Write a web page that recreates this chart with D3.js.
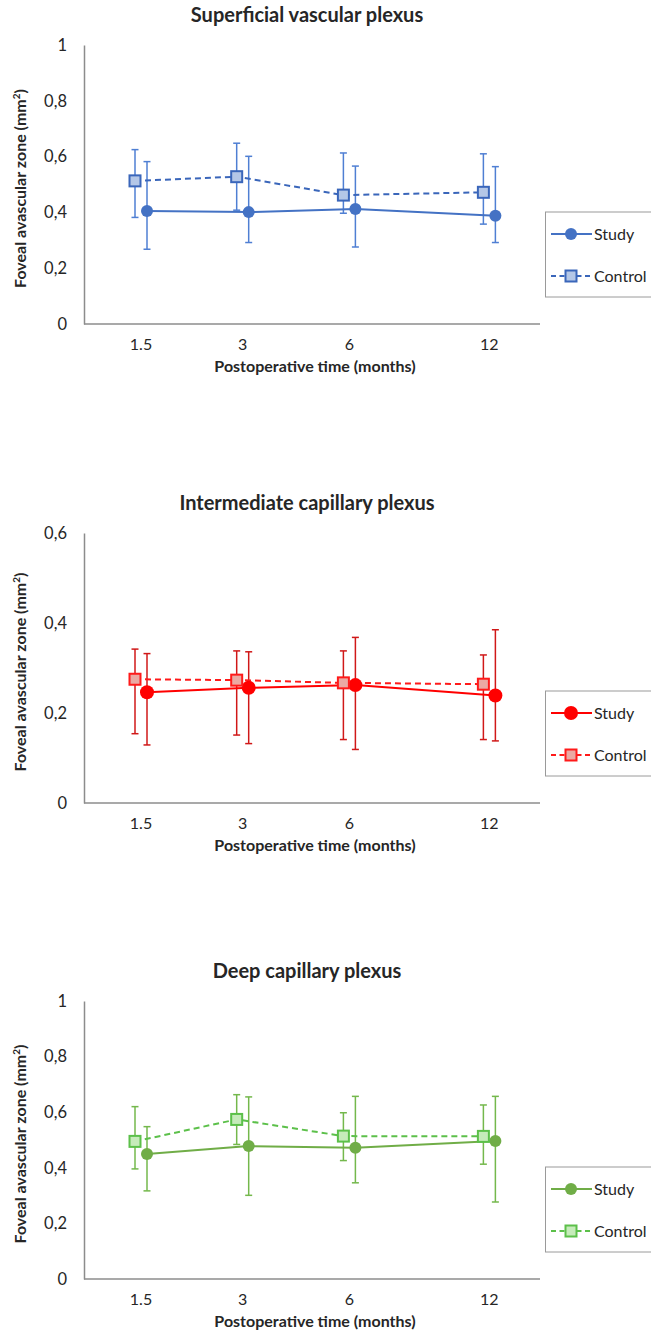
<!DOCTYPE html>
<html>
<head>
<meta charset="utf-8">
<script src="https://cdn.jsdelivr.net/npm/d3@7"></script>
<style>
  body { margin: 0; background: #fff; }
  text { font-family: Lato, "Open Sans", sans-serif; fill: #262626; }
</style>
</head>
<body>
<div id="chart"></div>
<script>
// x categories (months after surgery)
var months = ["1.5", "3", "6", "12"];

// Superficial vascular plexus
var svpStudy = [0.405, 0.401, 0.412, 0.388];
var svpStudyLow = [0.268, 0.292, 0.276, 0.292];
var svpStudyHigh = [0.582, 0.601, 0.566, 0.564];
var svpControl = [0.513, 0.528, 0.462, 0.472];
var svpControlLow = [0.382, 0.408, 0.397, 0.358];
var svpControlHigh = [0.625, 0.648, 0.613, 0.610];

// Intermediate capillary plexus
var icpStudy = [0.246, 0.256, 0.262, 0.239];
var icpStudyLow = [0.129, 0.132, 0.119, 0.138];
var icpStudyHigh = [0.332, 0.336, 0.368, 0.385];
var icpControl = [0.275, 0.273, 0.267, 0.264];
var icpControlLow = [0.154, 0.151, 0.141, 0.141];
var icpControlHigh = [0.342, 0.338, 0.338, 0.329];

// Deep capillary plexus
var dcpStudy = [0.450, 0.478, 0.472, 0.496];
var dcpStudyLow = [0.317, 0.301, 0.346, 0.277];
var dcpStudyHigh = [0.548, 0.655, 0.657, 0.657];
var dcpControl = [0.495, 0.574, 0.514, 0.513];
var dcpControlLow = [0.396, 0.484, 0.426, 0.413];
var dcpControlHigh = [0.620, 0.663, 0.598, 0.626];

var yTicksA = [0, 0.2, 0.4, 0.6, 0.8, 1];
var yTicksB = [0, 0.2, 0.4, 0.6];

var panels = [
    {title: "Superficial vascular plexus", top: 45, h: 279, yMax: 1, ticks: yTicksA, r: 6,
     line: "#4472C4", bar: "#4F7FD3", fill: "#B4C7E7", sq: "#3A66BA",
     study: [svpStudy, svpStudyLow, svpStudyHigh], control: [svpControl, svpControlLow, svpControlHigh]},
    {title: "Intermediate capillary plexus", top: 533, h: 270, yMax: 0.6, ticks: yTicksB, r: 7,
     line: "#FF0000", bar: "#D01818", fill: "#EBA9A3", sq: "#FF1A1A",
     study: [icpStudy, icpStudyLow, icpStudyHigh], control: [icpControl, icpControlLow, icpControlHigh]},
    {title: "Deep capillary plexus", top: 1001, h: 278, yMax: 1, ticks: yTicksA, r: 6,
     line: "#70AD47", bar: "#74B84C", fill: "#C6EBBA", sq: "#5CC04A",
     study: [dcpStudy, dcpStudyLow, dcpStudyHigh], control: [dcpControl, dcpControlLow, dcpControlHigh]}
];

var width = 651, height = 1340;
var left = 84, right = 540;

var svg = d3.select("#chart").append("svg")
    .attr("width", width)
    .attr("height", height);

// category positions are not evenly spaced in the original
var x = d3.scaleOrdinal()
    .domain(months)
    .range([0.125, 0.348, 0.582, 0.889].map(function(f){ return left + f * (right - left); }));

var fmt = function(d){ return String(d).replace(".", ","); };

panels.forEach(function(p){
    var g = svg.append("g");
    var y = d3.scaleLinear().domain([0, p.yMax]).range([p.top + p.h, p.top]);

    //title
    g.append("text")
        .attr("x", 307).attr("y", p.top - 23)
        .attr("text-anchor", "middle")
        .style("font-weight", "bold").style("font-size", "20px")
        .text(p.title);

    //y axis
    var ya = g.append("g")
        .attr("transform", "translate(" + left + ",0)")
        .call(d3.axisLeft(y).tickValues(p.ticks).tickSize(0).tickPadding(17).tickFormat(fmt));
    ya.select(".domain").attr("stroke", "#8c8c8c").attr("stroke-width", 1.5);
    ya.selectAll("text").style("font-size", "16.5px").style("font-family", "Lato, sans-serif").attr("fill", "#262626");

    //x axis line
    g.append("line")
        .attr("x1", left).attr("x2", right)
        .attr("y1", y(0)).attr("y2", y(0))
        .attr("stroke", "#8c8c8c").attr("stroke-width", 1.5);

    //x tick labels
    g.selectAll(".xlab").data(months).enter().append("text")
        .attr("x", function(d){ return x(d); })
        .attr("y", y(0) + 26)
        .attr("text-anchor", "middle")
        .style("font-size", "16px")
        .text(function(d){ return d; });

    g.append("text")
        .attr("x", 315).attr("y", y(0) + 48)
        .attr("text-anchor", "middle")
        .style("font-weight", "bold").style("font-size", "16px")
        .text("Postoperative time (months)");

    //y title
    var yt = g.append("text")
        .attr("transform", "translate(26," + (p.top + p.h / 2 + 4) + ") rotate(-90)")
        .attr("text-anchor", "middle")
        .style("font-weight", "bold").style("font-size", "16px");
    yt.append("tspan").text("Foveal avascular zone (mm");
    yt.append("tspan").attr("dy", -6).style("font-size", "10px").text("2");
    yt.append("tspan").attr("dy", 6).text(")");

    var series = [
        {name: "Study", vals: p.study, dx: 6, dash: null},
        {name: "Control", vals: p.control, dx: -6, dash: "6,4"}
    ];

    var line = d3.line()
        .x(function(d){ return x(d.m) + d.dx; })
        .y(function(d){ return y(d.v); });

    series.forEach(function(s){
        var pts = months.map(function(m, i){
            return {m: m, v: s.vals[0][i], lo: s.vals[1][i], hi: s.vals[2][i], dx: s.dx};
        });

        //error bars
        var eb = g.append("g");
        pts.forEach(function(d){
            var cx = x(d.m) + d.dx;
            eb.append("line").attr("x1", cx).attr("x2", cx).attr("y1", y(d.lo)).attr("y2", y(d.hi))
                .attr("stroke", p.bar).attr("stroke-width", 1.5);
            [d.lo, d.hi].forEach(function(v){
                eb.append("line").attr("x1", cx - 3.5).attr("x2", cx + 3.5).attr("y1", y(v)).attr("y2", y(v))
                    .attr("stroke", p.bar).attr("stroke-width", 1.5);
            });
        });
        s.pts = pts;
    });

    series.forEach(function(s){
        g.append("path")
            .datum(s.pts)
            .attr("d", line)
            .attr("fill", "none")
            .attr("stroke", s.name == "Study" ? p.line : p.sq)
            .attr("stroke-width", 2)
            .attr("stroke-dasharray", s.dash);
    });

    series.forEach(function(s){
        if (s.name == "Study") {
            g.selectAll(".c").data(s.pts).enter().append("circle")
                .attr("cx", function(d){ return x(d.m) + d.dx; })
                .attr("cy", function(d){ return y(d.v); })
                .attr("r", p.r)
                .attr("fill", p.line);
        } else {
            g.selectAll(".s").data(s.pts).enter().append("rect")
                .attr("x", function(d){ return x(d.m) + d.dx - 5.5; })
                .attr("y", function(d){ return y(d.v) - 5.5; })
                .attr("width", 11).attr("height", 11)
                .attr("fill", p.fill)
                .attr("stroke", p.sq).attr("stroke-width", 2);
        }
    });

    //legend
    var ly = p.top + p.h - 112;
    var lg = g.append("g");
    lg.append("rect")
        .attr("x", 545.5).attr("y", ly).attr("width", 120).attr("height", 85)
        .attr("fill", "#fff").attr("stroke", "#9a9a9a").attr("stroke-width", 1);
    series.forEach(function(s, i){
        var yy = ly + (i == 0 ? 22 : 64);
        lg.append("line").attr("x1", 551).attr("x2", 592).attr("y1", yy).attr("y2", yy)
            .attr("stroke", s.name == "Study" ? p.line : p.sq).attr("stroke-width", 2)
            .attr("stroke-dasharray", s.name == "Study" ? null : "5,3.5");
        if (s.name == "Study") {
            lg.append("circle").attr("cx", 571).attr("cy", yy).attr("r", p.r).attr("fill", p.line);
        } else {
            lg.append("rect").attr("x", 565.5).attr("y", yy - 5.5).attr("width", 11).attr("height", 11)
                .attr("fill", p.fill).attr("stroke", p.sq).attr("stroke-width", 2);
        }
        lg.append("text").attr("x", 594).attr("y", yy + 6)
            .style("font-size", "16px")
            .text(s.name);
    });
});
</script>
</body>
</html>
